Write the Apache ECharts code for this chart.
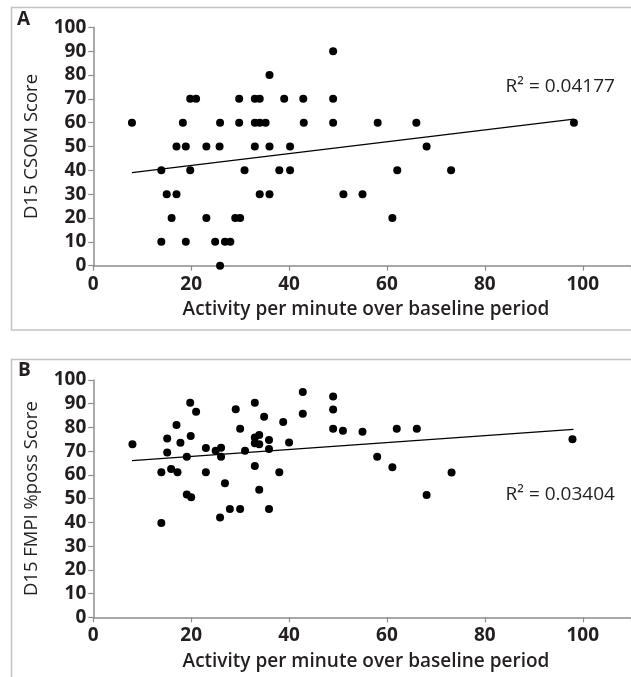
<!DOCTYPE html>
<html>
<head>
<meta charset="utf-8">
<script src="https://cdn.jsdelivr.net/npm/echarts@6/dist/echarts.min.js"></script>
<style>
html,body{margin:0;padding:0;background:#fff;}
#c{width:631px;height:677px;}
</style>
</head>
<body>
<div id="c"></div>
<script>
// Panel A: D15 CSOM Score vs activity
var aX = [7.9,13.9,13.9,15.0,17.0,16.0,18.3,17.0,18.9,18.9,19.8,19.8,21.0,23.1,23.1,24.9,25.9,25.8,25.9,26.9,28.0,29.0,30.0,29.8,29.8,30.9,33.0,34.0,33.0,34.0,35.2,33.0,34.0,36.0,36.0,36.0,39.0,38.0,40.2,40.2,42.9,43.0,49.0,49.0,49.0,58.1,66.0,68.1,62.1,73.1,51.1,55.0,61.1,98.2];
var aY = [60,40,10,30,30,20,60,50,50,10,40,70,70,50,20,10,60,50,0,10,10,20,20,70,60,40,70,70,60,60,60,50,30,30,80,50,70,40,40,50,70,60,90,70,60,60,60,50,40,40,30,30,20,60];
var aTrendX = [7.9, 98.2];
var aTrendY = [39.0, 61.5];
var aR2 = "R\u00B2 = 0.04177";

// Panel B: D15 FMPI %poss Score vs activity
var bX = [8.0,15.1,15.1,13.9,15.9,17.2,17.0,17.8,19.8,21.0,19.9,19.1,19.1,20.0,23.0,23.0,25.0,26.1,26.1,26.9,29.1,30.0,31.0,33.0,34.9,33.0,33.9,33.0,33.9,35.9,35.9,33.0,33.9,38.0,38.8,40.0,42.8,42.8,25.9,27.9,30.0,35.9,13.9,49.0,49.0,49.0,51.0,55.0,62.0,66.1,58.0,61.1,73.2,68.1,97.9];
var bY = [72.9,75.3,69.4,61.1,62.5,61.1,81.0,73.6,90.4,86.6,76.4,67.7,51.8,50.6,71.3,61.1,70.2,71.5,67.7,56.5,87.7,79.5,70.2,90.4,84.5,75.8,76.8,73.3,72.9,74.7,70.9,63.8,53.8,61.1,82.3,73.7,94.9,85.8,42.1,45.6,45.6,45.6,39.7,93.0,87.6,79.5,78.6,78.2,79.5,79.5,67.7,63.2,61.0,51.5,75.0];
var bTrendX = [7.9, 98.1];
var bTrendY = [66.0, 79.2];
var bR2 = "R\u00B2 = 0.03404";

var xTitle = "Activity per minute over baseline period";
var aYTitle = "D15 CSOM Score";
var bYTitle = "D15 FMPI %poss Score";

function zip(xs, ys){ var o=[]; for(var i=0;i<xs.length;i++) o.push([xs[i], ys[i]]); return o; }

var FONT = "'Open Sans', 'Noto Sans', sans-serif";
var axisGray = '#8c8c8c';
var txt = '#231f20';

function xAxisCfg(idx){
  return {
    gridIndex: idx, type:'value', min:0, max:110, interval:20,
    axisLine:{show:true, lineStyle:{color:axisGray, width:1.5}},
    axisTick:{show:true, length:5, lineStyle:{color:axisGray, width:1.2}},
    splitLine:{show:false},
    axisLabel:{color:txt, fontFamily:FONT, fontWeight:'bold', fontSize:19, margin:9,
      formatter:function(v){ return v>100 ? '' : String(v); }}
  };
}
function yAxisCfg(idx, title){
  return {
    gridIndex: idx, type:'value', min:0, max:100, interval:10,
    axisLine:{show:true, lineStyle:{color:axisGray, width:1.5}},
    axisTick:{show:true, length:5, lineStyle:{color:axisGray, width:1.2}},
    splitLine:{show:false},
    axisLabel:{color:txt, fontFamily:FONT, fontWeight:'bold', fontSize:19, margin:7},
    name:title, nameLocation:'middle', nameGap:52, nameRotate:90,
    nameTextStyle:{color:txt, fontFamily:FONT, fontWeight:'normal', fontSize:18.5}
  };
}

var chart = echarts.init(document.getElementById('c'), null, {renderer:'canvas'});
chart.setOption({
  animation:false,
  backgroundColor:'#fff',
  grid:[
    {left:93.3, top:27.3, height:238.4, width:538.4, outerBoundsMode:'none', containLabel:false},
    {left:93.3, top:380, height:237.3, width:538.4, outerBoundsMode:'none', containLabel:false}
  ],
  xAxis:[xAxisCfg(0), xAxisCfg(1)],
  yAxis:[yAxisCfg(0, aYTitle), yAxisCfg(1, bYTitle)],
  graphic:[
    {type:'rect', shape:{x:11.5, y:7.5, width:640, height:322.5}, style:{fill:'none', stroke:'#c4c4c4', lineWidth:1.5}, silent:true, z:-1},
    {type:'rect', shape:{x:11.5, y:359.5, width:640, height:400}, style:{fill:'none', stroke:'#c4c4c4', lineWidth:1.5}, silent:true, z:-1},
    {type:'text', left:17, top:10, style:{text:'A', fill:txt, font:'bold 19px ' + FONT}},
    {type:'text', left:18, top:361, style:{text:'B', fill:txt, font:'bold 19px ' + FONT}},
    {type:'text', x:366, y:310, style:{text:xTitle, fill:txt, font:'600 19px ' + FONT, align:'center', verticalAlign:'middle'}},
    {type:'text', x:366, y:662, style:{text:xTitle, fill:txt, font:'600 19px ' + FONT, align:'center', verticalAlign:'middle'}}
  ],
  series:[
    {type:'scatter', xAxisIndex:0, yAxisIndex:0, data:zip(aX,aY), symbol:'circle', symbolSize:8,
      itemStyle:{color:'#000', opacity:1}, z:3},
    {type:'line', xAxisIndex:0, yAxisIndex:0, data:zip(aTrendX,aTrendY), symbol:'none',
      lineStyle:{color:'#000', width:1.3}, z:2},
    {type:'scatter', xAxisIndex:1, yAxisIndex:1, data:zip(bX,bY), symbol:'circle', symbolSize:8,
      itemStyle:{color:'#000', opacity:1}, z:3},
    {type:'line', xAxisIndex:1, yAxisIndex:1, data:zip(bTrendX,bTrendY), symbol:'none',
      lineStyle:{color:'#000', width:1.3}, z:2},
    {type:'scatter', xAxisIndex:0, yAxisIndex:0, data:[[95.4, 75.0]], symbolSize:0, itemStyle:{opacity:1},
      label:{show:true, position:'inside', formatter:aR2, color:txt, fontFamily:FONT, fontSize:19}, silent:true},
    {type:'scatter', xAxisIndex:1, yAxisIndex:1, data:[[95.4, 51.7]], symbolSize:0, itemStyle:{opacity:1},
      label:{show:true, position:'inside', formatter:bR2, color:txt, fontFamily:FONT, fontSize:19}, silent:true}
  ]
});
</script>
</body>
</html>
